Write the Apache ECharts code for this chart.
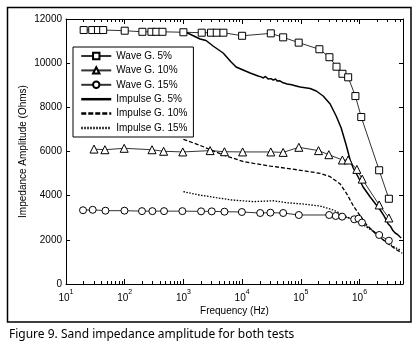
<!DOCTYPE html>
<html>
<head>
<meta charset="utf-8">
<script src="https://cdn.jsdelivr.net/npm/echarts@6/dist/echarts.min.js"></script>
<style>
  html, body { margin: 0; padding: 0; background: #fff; }
  #chart { width: 419px; height: 353px; }
</style>
</head>
<body>
<div id="chart"></div>
<script>
// frequency (Hz) / impedance (Ohms)
var wave5Freq = [20, 28, 35, 43, 100, 200, 285, 345, 440, 1000, 2050, 2950, 3700, 4800, 10000, 30800, 50000, 92000, 207000, 307000, 405000, 512000, 640000, 850000, 1070000, 2160000, 3160000];
var wave5 = [11500, 11500, 11500, 11500, 11470, 11420, 11420, 11420, 11420, 11400, 11380, 11380, 11380, 11380, 11240, 11350, 11170, 10930, 10630, 10270, 9840, 9520, 9360, 8510, 7560, 5150, 3860];

var wave10Freq = [30, 46, 98, 292, 460, 975, 2850, 5000, 10200, 30800, 50000, 92500, 200000, 300000, 510000, 640000, 900000, 1110000, 2160000, 3160000];
var wave10 = [6110, 6080, 6145, 6080, 6010, 5980, 6040, 5990, 5980, 5980, 5960, 6190, 6040, 5855, 5615, 5615, 5190, 4750, 3580, 2990];

var wave15Freq = [19.5, 28.5, 47, 99, 197, 296, 468, 960, 2000, 3040, 5000, 9900, 20300, 30300, 50000, 92500, 304000, 393000, 506000, 811000, 960000, 1100000, 2160000, 3160000];
var wave15 = [3340, 3360, 3320, 3320, 3300, 3300, 3300, 3300, 3290, 3290, 3275, 3260, 3215, 3230, 3215, 3125, 3125, 3080, 3050, 2930, 2960, 2780, 2220, 1960];

var imp5Freq = [1000, 1920, 2430, 3200, 4750, 6500, 7900, 10400, 13700, 18700, 21000, 23000, 25000, 27700, 31000, 34000, 37000, 39500, 44000, 50000, 58500, 70000, 80000, 97500, 144000, 183000, 240000, 316000, 400000, 487000, 592000, 692000, 780000, 948000, 1150000, 1520000, 2250000, 2600000, 3080000, 3400000, 3700000, 4050000, 4400000, 4800000, 5130000];
var imp5 = [11456, 11094, 11026, 10777, 10460, 10052, 9826, 9690, 9554, 9418, 9380, 9330, 9400, 9282, 9300, 9230, 9290, 9192, 9200, 9110, 9056, 9020, 8980, 8920, 8852, 8739, 8513, 8151, 7607, 7064, 6294, 5615, 5253, 4845, 4392, 3940, 3351, 3100, 2717, 2600, 2420, 2309, 2250, 2150, 2083];

var imp10Freq = [1000, 1870, 3160, 5330, 10300, 15600, 30000, 57800, 111000, 213000, 316000, 468000, 609000, 788000, 1030000, 1330000, 1980000, 2930000, 4330000, 5330000];
var imp10 = [6550, 6290, 6040, 5800, 5550, 5465, 5340, 5240, 5130, 5010, 4860, 4530, 4075, 3530, 3080, 2670, 2220, 1860, 1540, 1400];

var imp15Freq = [1000, 1870, 3600, 6940, 15600, 34100, 57800, 111000, 213000, 360000, 533000, 788000, 1170000, 1730000, 2560000, 3790000, 4930000];
var imp15 = [4180, 4030, 3910, 3800, 3730, 3770, 3680, 3620, 3530, 3350, 3120, 2900, 2670, 2370, 1990, 1690, 1540];

var seriesNames = ['Wave G. 5%', 'Wave G. 10%', 'Wave G. 15%', 'Impulse G. 5%', 'Impulse G. 10%', 'Impulse G. 15%'];
var majorTicks = [10, 100, 1000, 10000, 100000, 1000000];
var yTicks = [0, 2000, 4000, 6000, 8000, 10000, 12000];

var xMin = 10, xMax = 5500000;
var minorTicks = [];
majorTicks.forEach(function (m) {
  for (var k = 2; k <= 9; k++) {
    if (k * m <= xMax) minorTicks.push(k * m);
  }
});

function pairs(xs, ys) {
  return xs.map(function (x, i) { return [x, ys[i]]; });
}

var font = 'Liberation Sans, Arial, sans-serif';
var black = '#000';

var chart = echarts.init(document.getElementById('chart'));

function waveSeries(name, xs, ys, symbol, size) {
  return {
    name: name, type: 'line', data: pairs(xs, ys),
    symbol: symbol, symbolSize: size,
    itemStyle: { color: '#fff', borderColor: black, borderWidth: 1 },
    lineStyle: { color: '#333', width: 1 },
    emphasis: { disabled: true },
    animation: false
  };
}

function impulseSeries(name, xs, ys, type, width) {
  return {
    name: name, type: 'line', data: pairs(xs, ys),
    symbol: 'none', showSymbol: false,
    itemStyle: { color: black },
    lineStyle: { color: black, width: width, type: type },
    emphasis: { disabled: true },
    animation: false
  };
}

function xAxisBase(pos, ticks, len, showLine) {
  return {
    type: 'log', logBase: 10, min: xMin, max: xMax, position: pos,
    axisLine: { show: showLine, lineStyle: { color: black, width: 1 } },
    axisTick: { show: true, inside: true, length: len, customValues: ticks, lineStyle: { color: black } },
    axisLabel: { show: false },
    splitLine: { show: false },
    minorTick: { show: false }
  };
}

var xBottom = xAxisBase('bottom', majorTicks, 5, true);
xBottom.axisLabel = {
  show: true, customValues: majorTicks, margin: 5,
  formatter: function (v) { return '{b|10}{s|' + Math.round(Math.log10(v)) + '}'; },
  rich: {
    b: { fontFamily: font, fontSize: 10, color: black, lineHeight: 14, verticalAlign: 'bottom' },
    s: { fontFamily: font, fontSize: 7, color: black, lineHeight: 14, verticalAlign: 'top' }
  }
};
xBottom.name = 'Frequency (Hz)';
xBottom.nameLocation = 'middle';
xBottom.nameGap = 22;
xBottom.nameMoveOverlap = false;
xBottom.nameTextStyle = { fontFamily: font, fontSize: 10, color: black };

// legend entries: impulse lines drawn bold, no marker
var legendData = seriesNames.map(function (n, i) {
  if (i < 3) return { name: n };
  return {
    name: n,
    itemStyle: { color: 'rgba(0,0,0,0)', borderWidth: 0, opacity: 0 },
    lineStyle: { width: 2.5, type: i === 3 ? 'solid' : (i === 4 ? [5, 2] : [1.5, 1.5]) }
  };
});

chart.setOption({
  animation: false,
  backgroundColor: '#fff',
  grid: { left: 66, right: 16, top: 19, bottom: 69, containLabel: false },
  xAxis: [
    xBottom,
    xAxisBase('bottom', minorTicks, 3, false),
    xAxisBase('top', majorTicks, 5, true),
    xAxisBase('top', minorTicks, 3, false)
  ],
  yAxis: [
    {
      type: 'value', min: 0, max: 12000, interval: 2000, position: 'left',
      axisLine: { show: true, lineStyle: { color: black } },
      axisTick: { show: true, inside: true, length: 4, lineStyle: { color: black } },
      axisLabel: { fontFamily: font, fontSize: 10, color: black, margin: 4, formatter: function (v) { return String(v); } },
      splitLine: { show: false },
      name: 'Impedance Amplitude (Ohms)', nameLocation: 'middle', nameGap: 37.5, nameMoveOverlap: false,
      nameTextStyle: { fontFamily: font, fontSize: 10, color: black }
    },
    {
      type: 'value', min: 0, max: 12000, interval: 2000, position: 'right',
      axisLine: { show: true, lineStyle: { color: black } },
      axisTick: { show: true, inside: true, length: 4, lineStyle: { color: black } },
      axisLabel: { show: false },
      splitLine: { show: false }
    }
  ],
  legend: {
    orient: 'vertical', left: 73, top: 47,
    data: legendData,
    itemWidth: 30, itemHeight: 8, itemGap: 4.4,
    padding: [4, 6, 4, 7],
    borderColor: black, borderWidth: 1, backgroundColor: '#fff',
    textStyle: { fontFamily: font, fontSize: 10, color: black },
    selectedMode: false
  },
  series: [
    waveSeries(seriesNames[0], wave5Freq, wave5, 'rect', 7),
    waveSeries(seriesNames[1], wave10Freq, wave10, 'triangle', 8),
    waveSeries(seriesNames[2], wave15Freq, wave15, 'circle', 7),
    impulseSeries(seriesNames[3], imp5Freq, imp5, 'solid', 1.5),
    impulseSeries(seriesNames[4], imp10Freq, imp10, [4, 2], 1.3),
    impulseSeries(seriesNames[5], imp15Freq, imp15, [1.5, 1.5], 1.3)
  ],
  graphic: [
    {
      type: 'rect', silent: true,
      shape: { x: 7.5, y: 7.5, width: 403.5, height: 314.5 },
      style: { fill: null, stroke: black, lineWidth: 1.5 }
    },
    {
      type: 'text', left: 9, top: 329, silent: true,
      style: { text: 'Figure 9. Sand impedance amplitude for both tests', fill: '#000', font: '12px "Noto Sans", sans-serif' }
    }
  ]
});
</script>
</body>
</html>
